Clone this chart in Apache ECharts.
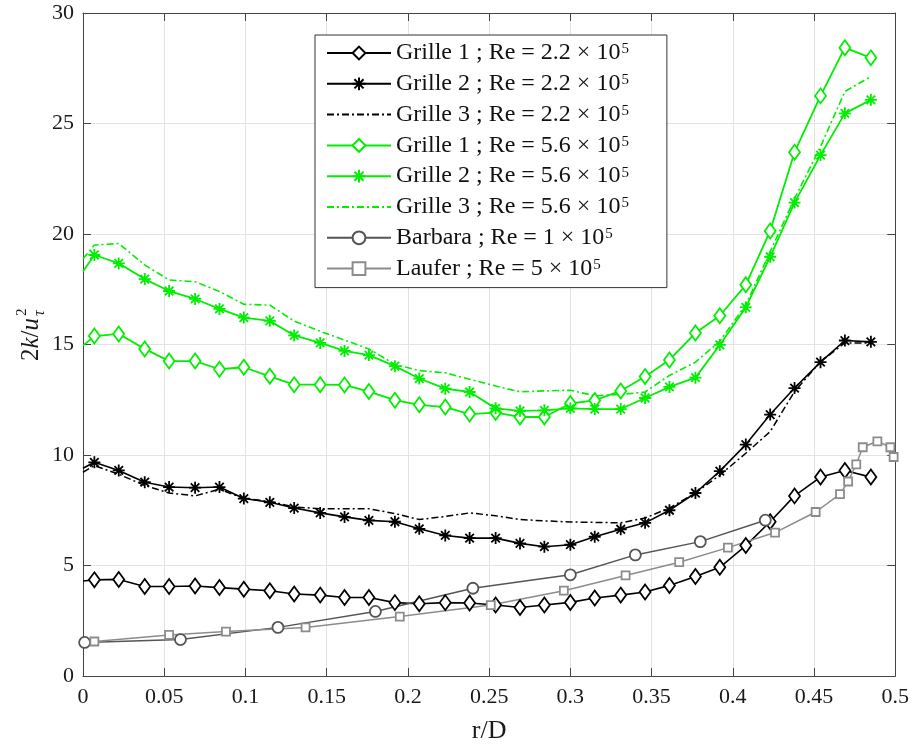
<!DOCTYPE html>
<html><head><meta charset="utf-8">
<script src="https://cdn.jsdelivr.net/npm/echarts@6/dist/echarts.min.js"></script>
<style>html,body{margin:0;padding:0;background:#fff}#c{width:912px;height:749px}</style>
</head><body><div id="c"></div>
<script>
// ---- data ----
const xTicks = ['0','0.05','0.1','0.15','0.2','0.25','0.3','0.35','0.4','0.45','0.5'];
const yTicks = ['0','5','10','15','20','25','30'];

const xGrille = [0, 0.007, 0.022, 0.038, 0.053, 0.069, 0.084, 0.099, 0.115, 0.130, 0.146, 0.161, 0.176, 0.192, 0.207, 0.223, 0.238, 0.254, 0.269, 0.284, 0.300, 0.315, 0.331, 0.346, 0.361, 0.377, 0.392, 0.408, 0.423, 0.438, 0.454, 0.469, 0.485];

const grille1_22 = [4.3, 4.35, 4.37, 4.05, 4.05, 4.07, 4.0, 3.93, 3.86, 3.71, 3.66, 3.55, 3.55, 3.32, 3.27, 3.32, 3.3, 3.21, 3.1, 3.21, 3.33, 3.53, 3.66, 3.8, 4.1, 4.5, 4.92, 5.9, 6.98, 8.15, 9.0, 9.3, 9.0];
const grille2_22 = [9.4, 9.67, 9.3, 8.77, 8.55, 8.52, 8.55, 8.03, 7.86, 7.6, 7.38, 7.2, 7.04, 6.98, 6.66, 6.36, 6.24, 6.24, 6.0, 5.85, 5.94, 6.3, 6.64, 6.93, 7.5, 8.28, 9.27, 10.47, 11.83, 13.03, 14.2, 15.18, 15.12];
const grille3_22 = [9.22, 9.52, 9.13, 8.62, 8.28, 8.15, 8.45, 8.03, 7.9, 7.65, 7.57, 7.57, 7.57, 7.35, 7.08, 7.22, 7.38, 7.25, 7.08, 7.02, 6.97, 6.95, 6.93, 7.15, 7.6, 8.28, 9.09, 10.08, 11.06, 12.87, 14.23, 15.07, 15.07];

const grille1_56 = [14.95, 15.38, 15.48, 14.8, 14.25, 14.25, 13.88, 13.97, 13.56, 13.18, 13.18, 13.17, 12.87, 12.48, 12.27, 12.17, 11.85, 11.92, 11.72, 11.72, 12.33, 12.47, 12.9, 13.55, 14.3, 15.52, 16.3, 17.7, 20.14, 23.7, 26.25, 28.43, 27.97];
const grille2_56 = [18.3, 19.05, 18.67, 17.96, 17.42, 17.06, 16.61, 16.22, 16.07, 15.41, 15.07, 14.71, 14.52, 14.02, 13.46, 13.0, 12.85, 12.11, 12.0, 12.02, 12.11, 12.08, 12.08, 12.58, 13.08, 13.5, 14.98, 16.68, 18.97, 21.42, 23.57, 25.46, 26.07];
const grille3_56 = [18.88, 19.5, 19.57, 18.6, 17.92, 17.84, 17.4, 16.82, 16.78, 16.06, 15.6, 15.2, 14.8, 14.1, 13.82, 13.72, 13.43, 13.12, 12.86, 12.9, 12.93, 12.68, 12.74, 12.85, 13.6, 14.2, 15.15, 16.8, 19.2, 21.6, 23.95, 26.45, 27.13];

const xBarbara = [0.001, 0.06, 0.12, 0.18, 0.24, 0.30, 0.34, 0.38, 0.42];
const yBarbara = [1.52, 1.65, 2.2, 2.92, 3.97, 4.58, 5.48, 6.08, 7.05];

const xLaufer = [0.007, 0.053, 0.088, 0.137, 0.195, 0.251, 0.296, 0.334, 0.367, 0.397, 0.426, 0.451, 0.466, 0.471, 0.476, 0.480, 0.489, 0.497, 0.499];
const yLaufer = [1.56, 1.86, 2.01, 2.2, 2.69, 3.21, 3.86, 4.55, 5.15, 5.81, 6.49, 7.42, 8.23, 8.8, 9.58, 10.35, 10.62, 10.35, 9.91];

const seriesNames = [
  'Grille 1 ; Re = 2.2 × 10|5',
  'Grille 2 ; Re = 2.2 × 10|5',
  'Grille 3 ; Re = 2.2 × 10|5',
  'Grille 1 ; Re = 5.6 × 10|5',
  'Grille 2 ; Re = 5.6 × 10|5',
  'Grille 3 ; Re = 5.6 × 10|5',
  'Barbara ; Re = 1 × 10|5',
  'Laufer ; Re = 5 × 10|5'
];

// ---- styling ----
const FONT = "'Liberation Serif', 'DejaVu Serif', serif";
const GREEN = '#00ee00';
const STAR = 'path://M0,-10L0,10M-10,0L10,0M-7.1,-7.1L7.1,7.1M-7.1,7.1L7.1,-7.1';
const DASHDOT = [7, 3, 2, 3];

function pts(xs, ys, hideFirst) {
  return xs.map((x, i) => (hideFirst && i === 0) ? {value: [x, ys[i]], symbol: 'none'} : [x, ys[i]]);
}
function mk(name, data, color, symbol, size, fill, dash, lw) {
  return {
    name: name, type: 'line', data: data,
    symbol: symbol, symbolSize: size, symbolKeepAspect: false,
    showSymbol: symbol !== 'none',
    clip: true,
    itemStyle: {color: fill, borderColor: color, borderWidth: 1.8},
    lineStyle: {color: color, width: lw, type: dash || 'solid'},
    emphasis: {disabled: true},
    animation: false
  };
}

const series = [
  mk(seriesNames[0], pts(xGrille, grille1_22, true), '#000', 'diamond', [11, 15], '#fff', null, 1.6),
  mk(seriesNames[1], pts(xGrille, grille2_22, true), '#000', STAR, 12, '#000', null, 1.6),
  mk(seriesNames[2], pts(xGrille, grille3_22, true), '#000', 'none', 1, '#000', DASHDOT, 1.5),
  mk(seriesNames[3], pts(xGrille, grille1_56, true), GREEN, 'diamond', [11, 15], '#fff', null, 1.8),
  mk(seriesNames[4], pts(xGrille, grille2_56, true), GREEN, STAR, 12, GREEN, null, 1.8),
  mk(seriesNames[5], pts(xGrille, grille3_56, true), GREEN, 'none', 1, GREEN, DASHDOT, 1.6),
  mk(seriesNames[6], pts(xBarbara, yBarbara, false), '#555', 'circle', 11, '#fff', null, 1.5),
  mk(seriesNames[7], pts(xLaufer, yLaufer, false), '#8c8c8c', 'rect', 8, '#fff', null, 1.5)
];

const legendData = seriesNames.map((n, i) => (i === 2 || i === 5) ? {name: n, itemStyle: {opacity: 0}} : {name: n});

const axisCommon = {
  type: 'value',
  axisLine: {show: true, onZero: false, lineStyle: {color: '#444', width: 1}},
  axisTick: {show: true, inside: true, length: 8, lineStyle: {color: '#444'}},
  splitLine: {show: false}
};

const chart = echarts.init(document.getElementById('c'), null, {renderer: 'canvas'});
chart.setOption({
  backgroundColor: '#fff',
  animation: false,
  grid: {left: 83, right: 15, top: 13, bottom: 69, containLabel: false},
  xAxis: [
    Object.assign({}, axisCommon, {
      min: 0, max: 0.5, interval: 0.05, position: 'bottom',
      splitLine: {show: true, lineStyle: {color: '#e3e3e3', width: 1}},
      axisLabel: {fontFamily: FONT, fontSize: 22, color: '#1a1a1a', margin: 10,
        formatter: (v) => xTicks[Math.round(v / 0.05)]},
      name: 'r/D', nameLocation: 'middle', nameGap: 42,
      nameTextStyle: {fontFamily: FONT, fontSize: 26, color: '#1a1a1a'}
    }),
    Object.assign({}, axisCommon, {
      min: 0, max: 0.5, interval: 0.05, position: 'top', axisLabel: {show: false}
    })
  ],
  yAxis: [
    Object.assign({}, axisCommon, {
      min: 0, max: 30, interval: 5, position: 'left',
      splitLine: {show: true, lineStyle: {color: '#e3e3e3', width: 1}},
      axisLabel: {fontFamily: FONT, fontSize: 22, color: '#1a1a1a', margin: 9,
        formatter: (v) => yTicks[Math.round(v / 5)]}
    }),
    Object.assign({}, axisCommon, {
      min: 0, max: 30, interval: 5, position: 'right', axisLabel: {show: false}
    })
  ],
  legend: {
    show: true, orient: 'vertical', left: 315, top: 35,
    data: legendData,
    selectedMode: false,
    backgroundColor: '#fff', borderColor: '#333', borderWidth: 1,
    padding: [6, 38, 7, 11],
    itemWidth: 64, itemHeight: 16, itemGap: 6.8,
    formatter: (n) => '{t|' + n.split('|')[0] + '}{s|' + n.split('|')[1] + '}',
    textStyle: {
      fontFamily: FONT, fontSize: 24, color: '#111',
      rich: {
        t: {fontFamily: FONT, fontSize: 24, lineHeight: 22, color: '#111'},
        s: {fontFamily: FONT, fontSize: 15, lineHeight: 14, verticalAlign: 'top', color: '#111', padding: [0, 0, 8, 1]}
      }
    }
  },
  graphic: [{
    type: 'group', x: 31, y: 331, rotation: Math.PI / 2,
    children: [
      {type: 'text', x: -30, y: 0, style: {
        text: '{a|2}{b|k}{a|/}{b|u}',
        verticalAlign: 'middle',
        rich: {
          a: {font: '25px ' + FONT, fill: '#1a1a1a'},
          b: {font: 'italic 25px ' + FONT, fill: '#1a1a1a'}
        }
      }},
      {type: 'text', x: 15, y: -9, style: {text: '2', font: '15px ' + FONT, fill: '#1a1a1a', verticalAlign: 'middle'}},
      {type: 'text', x: 15, y: 9, style: {text: 'τ', font: 'italic 16px ' + FONT, fill: '#1a1a1a', verticalAlign: 'middle'}}
    ]
  }],
  series: series
});
</script>
</body></html>
